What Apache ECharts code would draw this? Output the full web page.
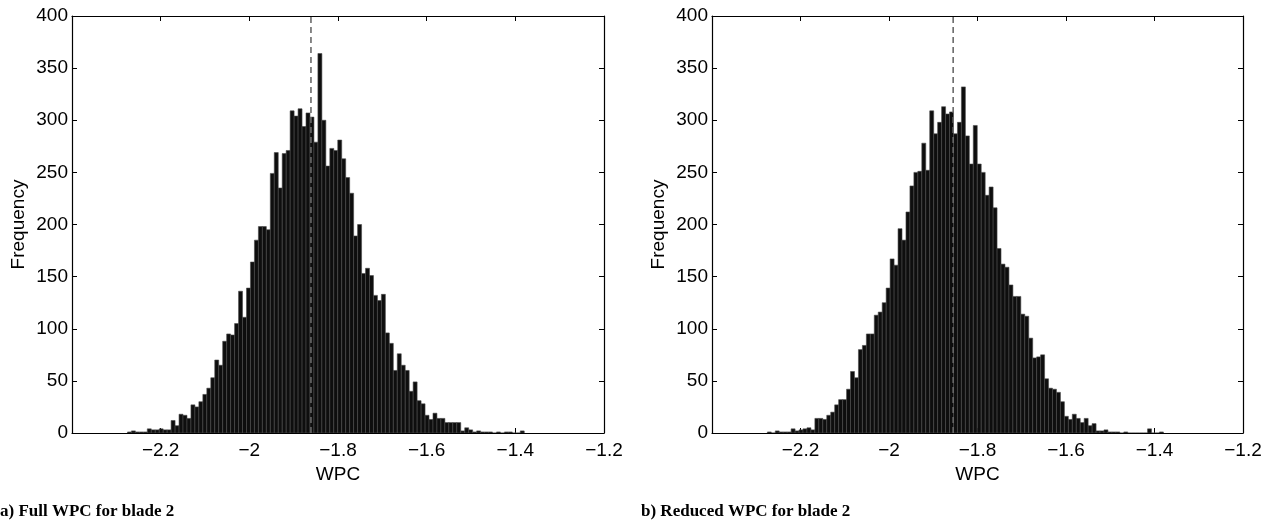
<!DOCTYPE html>
<html>
<head>
<meta charset="utf-8">
<script src="https://cdn.jsdelivr.net/npm/echarts@6/dist/echarts.min.js"></script>
<style>
html,body{margin:0;padding:0;background:#fff;}
#c{width:1266px;height:521px;}
</style>
</head>
<body>
<div id="c"></div>
<script>
// ---- data ----
const binStart = -2.2749;    // left edge of the first bin (WPC)
const binWidth = 0.00895;    // bin width (WPC)
const freqFull = [
  1,2,1,1,1,4,3,3,4,3,
  3,12,7,18,17,14,27,25,30,37,
  43,53,70,65,88,95,94,105,136,111,
  139,164,185,198,198,195,249,269,235,268,
  271,309,304,311,294,307,303,279,364,300,
  256,273,271,281,263,245,230,189,200,153,
  158,151,132,127,133,96,86,60,76,65,
  60,40,49,31,28,17,13,19,14,14,
  10,10,10,10,2,5,3,1,2,1,
  1,1,0,1,0,1,1,0,0,2
];
const freqReduced = [
  1,0,2,1,1,1,4,2,3,4,
  5,3,14,14,13,17,20,27,32,32,
  42,59,53,80,84,95,95,113,116,125,
  139,167,161,196,185,212,237,250,251,278,
  252,309,287,298,313,306,308,287,298,332,
  285,258,295,258,250,228,236,216,177,162,
  159,142,131,131,114,112,91,72,73,75,
  52,43,42,39,30,16,13,18,14,10,
  14,7,9,2,2,3,1,1,1,0,
  1,0,0,0,0,0,4,0,0,1
];
const meanFull = -1.861;
const meanReduced = -1.855;
const xTicks = [-2.4, -2.2, -2.0, -1.8, -1.6, -1.4, -1.2];
const yTicks = [0, 50, 100, 150, 200, 250, 300, 350, 400];
const captions = ['a) Full WPC for blade 2', 'b) Reduced WPC for blade 2'];

// ---- chart ----
function toRects(freq) {
  return freq.map((v, i) => [binStart + i * binWidth, binStart + (i + 1) * binWidth, v]);
}
function renderBar(params, api) {
  const p0 = api.coord([api.value(0), api.value(2)]);
  const p1 = api.coord([api.value(1), 0]);
  return {
    type: 'rect',
    shape: { x: p0[0], y: p0[1], width: p1[0] - p0[0], height: p1[1] - p0[1] },
    style: { fill: '#0e0e0e', stroke: '#4a4a4a', lineWidth: 0.6 }
  };
}
const FONT = '"Liberation Sans", Arial, Helvetica, sans-serif';
const FS = 19;
const fmtX = v => (Math.abs(v - xTicks[0]) < 1e-9 ? '' : (v < 0 ? '\u2212' : '') + String(Math.round(Math.abs(v) * 10) / 10));

const grids = [
  { left: 72, right: 662, top: 16, bottom: 88 },
  { left: 712, right: 23, top: 16, bottom: 88 }
];
const xAxes = [], yAxes = [], series = [];
grids.forEach((g, gi) => {
  const base = {
    gridIndex: gi, type: 'value', min: xTicks[0], max: xTicks[xTicks.length - 1], interval: 0.2,
    axisLine: { show: true, onZero: false, lineStyle: { color: '#000', width: 1.2 } },
    axisTick: { show: true, inside: true, length: 5, lineStyle: { color: '#000', width: 1 } },
    splitLine: { show: false }
  };
  xAxes.push(Object.assign({}, base, {
    position: 'bottom',
    name: 'WPC', nameLocation: 'middle', nameGap: 22,
    nameTextStyle: { fontFamily: FONT, fontSize: FS, color: '#000' },
    axisLabel: { show: true, margin: 8, formatter: fmtX, fontFamily: FONT, fontSize: FS, color: '#000', showMinLabel: true, showMaxLabel: true }
  }));
  xAxes.push(Object.assign({}, base, { position: 'top', axisLabel: { show: false } }));
  const ybase = {
    gridIndex: gi, type: 'value', min: yTicks[0], max: yTicks[yTicks.length - 1], interval: 50,
    axisLine: { show: true, onZero: false, lineStyle: { color: '#000', width: 1.2 } },
    axisTick: { show: true, inside: true, length: 5, lineStyle: { color: '#000', width: 1 } },
    splitLine: { show: false }
  };
  yAxes.push(Object.assign({}, ybase, {
    position: 'left',
    name: 'Frequency', nameLocation: 'middle', nameGap: 44,
    nameTextStyle: { fontFamily: FONT, fontSize: FS, color: '#000' },
    axisLabel: { show: true, margin: 4, fontFamily: FONT, fontSize: FS, color: '#000' }
  }));
  yAxes.push(Object.assign({}, ybase, { position: 'right', axisLabel: { show: false } }));

  const freq = gi === 0 ? freqFull : freqReduced;
  const mean = gi === 0 ? meanFull : meanReduced;
  series.push({
    type: 'custom', xAxisIndex: gi * 2, yAxisIndex: gi * 2,
    renderItem: renderBar, clip: true,
    encode: { x: [0, 1], y: 2 },
    data: toRects(freq), silent: true, animation: false
  });
  series.push({
    type: 'line', xAxisIndex: gi * 2, yAxisIndex: gi * 2,
    data: [[mean, yTicks[0]], [mean, yTicks[yTicks.length - 1]]],
    symbol: 'none', silent: true, animation: false, z: 5,
    lineStyle: { color: '#6a6a6a', width: 1.6, type: [6, 4] }
  });
});

const chart = echarts.init(document.getElementById('c'), null, { renderer: 'canvas' });
chart.setOption({
  animation: false,
  backgroundColor: '#fff',
  grid: grids,
  xAxis: xAxes,
  yAxis: yAxes,
  series: series,
  graphic: [
    { type: 'text', left: 0, top: 503, style: { text: captions[0], font: 'bold 17px "Liberation Serif", "Times New Roman", serif', fill: '#000' } },
    { type: 'text', left: 641, top: 503, style: { text: captions[1], font: 'bold 17px "Liberation Serif", "Times New Roman", serif', fill: '#000' } }
  ]
});
</script>
</body>
</html>
